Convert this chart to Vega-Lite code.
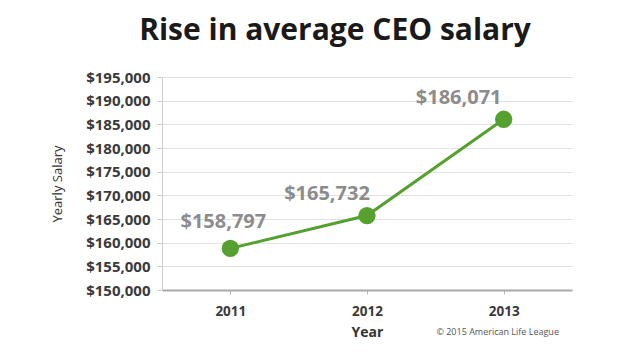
{
  "$schema": "https://vega.github.io/schema/vega-lite/v6.json",
  "width": 410,
  "height": 213,
  "autosize": {"type": "none"},
  "padding": {"left": 162, "top": 77, "right": 68, "bottom": 66},
  "background": "white",
  "title": {
    "text": "Rise in average CEO salary",
    "anchor": "middle",
    "dx": -32,
    "offset": 24,
    "font": "Open Sans",
    "fontSize": 30,
    "fontWeight": "bold",
    "color": "#1a1a1a"
  },
  "config": {
    "view": {"stroke": null},
    "axis": {
      "labelFont": "Open Sans",
      "titleFont": "Open Sans",
      "labelColor": "#3a3a3a",
      "titleColor": "#333333"
    }
  },
  "data": {
    "values": [
      {"Year": "2011", "Salary": 158797, "Label": "$158,797"},
      {"Year": "2012", "Salary": 165732, "Label": "$165,732"},
      {"Year": "2013", "Salary": 186071, "Label": "$186,071"}
    ]
  },
  "encoding": {
    "x": {
      "field": "Year",
      "type": "ordinal",
      "scale": {"type": "point", "padding": 0.5},
      "axis": {
        "labelAngle": 0,
        "title": "Year",
        "labelFontSize": 13.5,
        "labelFontWeight": "bold",
        "titleFontSize": 14,
        "titleFontWeight": "bold",
        "titlePadding": 8,
        "domainColor": "#aaaaaa",
        "domainWidth": 2,
        "tickColor": "#bbbbbb",
        "tickSize": 4,
        "grid": false,
        "labelPadding": 10
      }
    },
    "y": {
      "field": "Salary",
      "type": "quantitative",
      "scale": {"domain": [150000, 195000], "nice": false},
      "axis": {
        "values": [150000, 155000, 160000, 165000, 170000, 175000, 180000, 185000, 190000, 195000],
        "format": "$,.0f",
        "title": "Yearly Salary",
        "labelFontSize": 15,
        "labelFontWeight": "bold",
        "titleFontSize": 13,
        "titleFontWeight": "normal",
        "titlePadding": 21,
        "domainColor": "#cccccc",
        "tickColor": "#cccccc",
        "tickSize": 5,
        "gridColor": "#e2e2e2",
        "labelPadding": 7
      }
    }
  },
  "layer": [
    {
      "mark": {"type": "line", "color": "#55a02e", "strokeWidth": 3}
    },
    {
      "mark": {"type": "point", "filled": true, "color": "#55a02e", "size": 300, "opacity": 1}
    },
    {
      "transform": [{"filter": "datum.Year == '2011'"}],
      "mark": {"type": "text", "font": "Open Sans", "fontSize": 20, "fontWeight": "bold", "color": "#8c8c8c", "dx": -7, "dy": -26},
      "encoding": {"text": {"field": "Label"}}
    },
    {
      "transform": [{"filter": "datum.Year == '2012'"}],
      "mark": {"type": "text", "font": "Open Sans", "fontSize": 20, "fontWeight": "bold", "color": "#8c8c8c", "dx": -40, "dy": -22},
      "encoding": {"text": {"field": "Label"}}
    },
    {
      "transform": [{"filter": "datum.Year == '2013'"}],
      "mark": {"type": "text", "font": "Open Sans", "fontSize": 20, "fontWeight": "bold", "color": "#8c8c8c", "dx": -45, "dy": -21},
      "encoding": {"text": {"field": "Label"}}
    },
    {
      "data": {"values": [{"Year": "2013", "Salary": 150000, "Note": "© 2015 American Life League"}]},
      "mark": {"type": "text", "font": "Open Sans", "fontSize": 9, "color": "#555555", "dx": -6, "dy": 42},
      "encoding": {"text": {"field": "Note"}}
    }
  ]
}
